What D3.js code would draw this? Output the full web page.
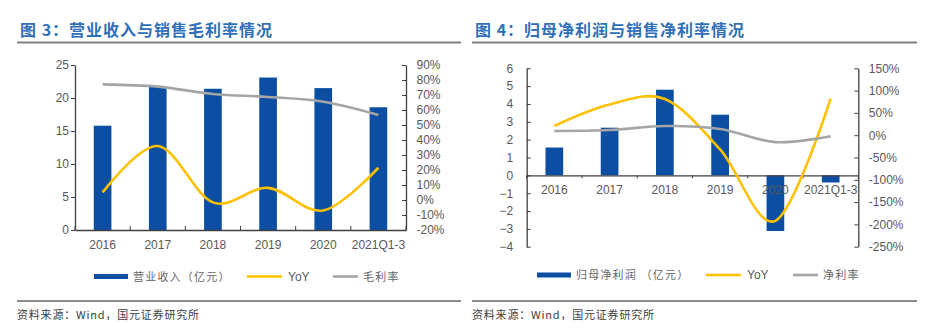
<!DOCTYPE html>
<html>
<head>
<meta charset="utf-8">
<script src="https://cdn.jsdelivr.net/npm/d3@7"></script>
<style>
  html, body { margin: 0; padding: 0; background: #fff; }
  svg { display: block; font-family: 'Liberation Sans', Arial, 'Noto Sans CJK SC', sans-serif; }
</style>
</head>
<body>
<div id="chart"></div>
<script>
const categories = ['2016', '2017', '2018', '2019', '2020', '2021Q1-3'];

// fig 3: revenue (100m yuan), revenue growth (%), gross margin (%)
const revenue = [15.8, 21.7, 21.4, 23.1, 21.5, 18.6];
const revenueYoY = [5.1, 36.0, -1.6, 8.1, -7.0, 21.5];
const grossMargin = [77.1, 75.6, 70.7, 68.7, 65.5, 56.7];
const revLeftTicks = [0, 5, 10, 15, 20, 25];
const revRightTicks = [-20, -10, 0, 10, 20, 30, 40, 50, 60, 70, 80, 90];

// fig 4: net profit attributable (100m yuan), growth (%), net margin (%)
const netProfit = [1.56, 2.67, 4.80, 3.40, -3.12, -0.40];
const netProfitYoY = [21, 69, 81, -32, -192, 82];
const netMargin = [9.5, 11.5, 20.5, 14.0, -15.5, -2.2];
const npLeftTicks = [-4, -3, -2, -1, 0, 1, 2, 3, 4, 5, 6];
const npRightTicks = [-250, -200, -150, -100, -50, 0, 50, 100, 150];

const BLUE = '#0B4EA2', YELLOW = '#FFC000', GRAY = '#A5A5A5';
const AXIS = '#404040', TEXT = '#595959';
const CJK = "'Noto Sans CJK SC', 'Liberation Sans', sans-serif";

const width = 951, height = 329;
const svg = d3.select('#chart').append('svg')
  .attr('width', width)
  .attr('height', height);

function drawPanel(cfg) {
  const g = svg.append('g');

  // title and rules
  g.append('text')
    .attr('x', cfg.left)
    .attr('y', 36)
    .attr('fill', '#3070B8')
    .attr('font-size', 16)
    .attr('font-weight', 'bold')
    .attr('letter-spacing', 1)
    .attr('font-family', CJK)
    .text(cfg.title);
  g.append('line')
    .attr('x1', cfg.ruleX0).attr('x2', cfg.ruleX1)
    .attr('y1', 42.5).attr('y2', 42.5)
    .attr('stroke', '#808080').attr('stroke-width', 2);
  g.append('line')
    .attr('x1', cfg.ruleX0).attr('x2', cfg.ruleX1)
    .attr('y1', 301).attr('y2', 301)
    .attr('stroke', '#8c8c8c').attr('stroke-width', 2);
  g.append('text')
    .attr('x', cfg.ruleX0)
    .attr('y', 319)
    .attr('fill', '#404040')
    .attr('font-size', 11)
    .attr('letter-spacing', 0.8)
    .attr('font-family', CJK)
    .text('资料来源：Wind，国元证券研究所');

  const x = d3.scaleBand()
    .domain(categories)
    .range([cfg.plotX0, cfg.plotX1])
    .paddingInner(0.68)
    .paddingOuter(0.34);

  const y = d3.scaleLinear().domain(cfg.leftDomain).range([cfg.plotY1, cfg.plotY0]);
  const y2 = d3.scaleLinear().domain(cfg.rightDomain).range([cfg.plotY1, cfg.plotY0]);

  // bars
  g.append('g').selectAll('rect')
    .data(cfg.bars)
    .join('rect')
    .attr('x', (d, i) => x(categories[i]))
    .attr('y', d => y(Math.max(0, d)))
    .attr('width', x.bandwidth())
    .attr('height', d => Math.abs(y(d) - y(0)))
    .attr('fill', BLUE);

  // x axis sits on the zero line
  const zeroY = y(0);
  const xAxis = g.append('g')
    .attr('transform', `translate(0,${zeroY})`)
    .call(d3.axisBottom(x).tickSize(0).tickPadding(10.5));
  xAxis.select('.domain').attr('stroke', AXIS).attr('stroke-width', 1.3);
  xAxis.selectAll('text').attr('fill', TEXT).attr('font-size', 12);

  const bounds = d3.range(categories.length + 1).map(i => cfg.plotX0 + i * x.step());
  g.append('g').selectAll('line')
    .data(bounds)
    .join('line')
    .attr('x1', d => d).attr('x2', d => d)
    .attr('y1', zeroY).attr('y2', zeroY + cfg.xTick)
    .attr('stroke', AXIS).attr('stroke-width', 1);

  // left axis
  const yAxis = g.append('g')
    .attr('transform', `translate(${cfg.plotX0},0)`)
    .call(d3.axisLeft(y).tickValues(cfg.leftTicks).tickSizeInner(cfg.leftTick).tickSizeOuter(0)
      .tickPadding(cfg.leftPad).tickFormat(d3.format('d')));
  yAxis.select('.domain').attr('stroke', AXIS).attr('stroke-width', 1.3);
  yAxis.selectAll('.tick line').attr('stroke', AXIS);
  yAxis.selectAll('text').attr('fill', TEXT).attr('font-size', 12);

  // right axis
  const y2Axis = g.append('g')
    .attr('transform', `translate(${cfg.plotX1},0)`)
    .call(d3.axisRight(y2).tickValues(cfg.rightTicks).tickSizeInner(-4).tickSizeOuter(0)
      .tickPadding(10.5).tickFormat(d => d + '%'));
  y2Axis.select('.domain').attr('stroke', AXIS).attr('stroke-width', 1.3);
  y2Axis.selectAll('.tick line').attr('stroke', AXIS);
  y2Axis.selectAll('text').attr('fill', TEXT).attr('font-size', 12);

  // smoothed lines on the secondary axis
  const line = d3.line()
    .x((d, i) => x(categories[i]) + x.bandwidth() / 2)
    .y(d => y2(d))
    .curve(d3.curveCardinal.tension(0));

  g.append('path')
    .datum(cfg.yoy)
    .attr('d', line)
    .attr('fill', 'none')
    .attr('stroke', YELLOW)
    .attr('stroke-width', 2.6);

  g.append('path')
    .datum(cfg.margin)
    .attr('d', line)
    .attr('fill', 'none')
    .attr('stroke', GRAY)
    .attr('stroke-width', 2.6);

  // legend
  const lg = g.append('g')
    .attr('font-size', 11)
    .attr('fill', '#666')
    .attr('letter-spacing', 1.2)
    .attr('font-family', CJK);
  const ly = cfg.legendY;
  lg.append('rect')
    .attr('x', cfg.legendX[0]).attr('y', ly - 2.5)
    .attr('width', 34).attr('height', 5)
    .attr('fill', BLUE);
  lg.append('text').attr('x', cfg.legendX[0] + 39).attr('y', ly + 4).text(cfg.barLabel);
  lg.append('line')
    .attr('x1', cfg.legendX[1]).attr('x2', cfg.legendX[1] + 35)
    .attr('y1', ly).attr('y2', ly)
    .attr('stroke', YELLOW).attr('stroke-width', 2.6);
  lg.append('text').attr('x', cfg.legendX[1] + 41).attr('y', ly + 4)
    .attr('font-family', "'Liberation Sans', Arial, sans-serif").attr('font-size', 12)
    .attr('letter-spacing', 0).attr('fill', TEXT)
    .text('YoY');
  lg.append('line')
    .attr('x1', cfg.legendX[2]).attr('x2', cfg.legendX[2] + 25)
    .attr('y1', ly).attr('y2', ly)
    .attr('stroke', GRAY).attr('stroke-width', 2.6);
  lg.append('text').attr('x', cfg.legendX[2] + 30).attr('y', ly + 4).text(cfg.marginLabel);
}

drawPanel({
  title: '图 3：营业收入与销售毛利率情况',
  left: 20, ruleX0: 17, ruleX1: 461,
  plotX0: 75, plotX1: 406, plotY0: 65, plotY1: 230,
  leftDomain: [0, 25], rightDomain: [-20, 90],
  leftTicks: revLeftTicks, rightTicks: revRightTicks,
  leftTick: 4, leftPad: 2, xTick: -4,
  bars: revenue, yoy: revenueYoY, margin: grossMargin,
  legendY: 276.5, legendX: [94, 247, 333],
  barLabel: '营业收入（亿元）', marginLabel: '毛利率'
});

drawPanel({
  title: '图 4：归母净利润与销售净利率情况',
  left: 475, ruleX0: 472, ruleX1: 917,
  plotX0: 526.7, plotX1: 858.3, plotY0: 68.3, plotY1: 246.7,
  leftDomain: [-4, 6], rightDomain: [-250, 150],
  leftTicks: npLeftTicks, rightTicks: npRightTicks,
  leftTick: -4, leftPad: 13.5, xTick: 3,
  bars: netProfit, yoy: netProfitYoY, margin: netMargin,
  legendY: 275, legendX: [537, 706, 793],
  barLabel: '归母净利润 （亿元）', marginLabel: '净利率'
});
</script>
</body>
</html>
